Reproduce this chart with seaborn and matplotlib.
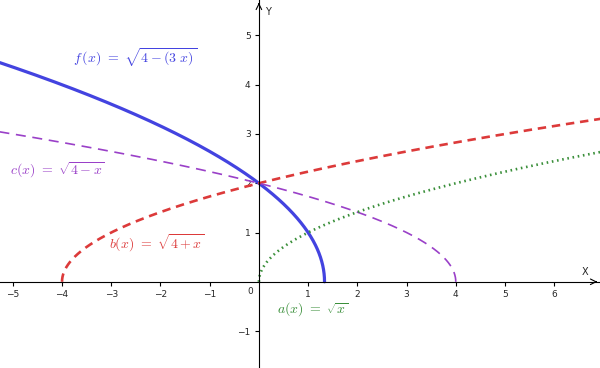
import numpy as np
import pandas as pd
import matplotlib
matplotlib.use("Agg")
import matplotlib.pyplot as plt
import seaborn as sns

# curves as shown in the picture: y = sqrt(k + m*x), defined where k + m*x >= 0
names = ["f", "b", "c", "a"]
const_k = [4, 4, 4, 0]
slope_m = [-3, 1, -1, 1]
labels = [r"$f\,(x)\ =\ \sqrt{4-(3\ x)}$",
          r"$b(x)\ =\ \sqrt{4+x}$",
          r"$c(x)\ =\ \sqrt{4-x}$",
          r"$a(x)\ =\ \sqrt{x}$"]
label_pos = [(-2.52, 4.55), (-2.07, 0.79), (-4.1, 2.27), (1.1, -0.55)]

x_ticks = [-5, -4, -3, -2, -1, 1, 2, 3, 4, 5, 6]
y_ticks = [-1, 1, 2, 3, 4, 5]

colors = ["#4343e0", "#dc3a3a", "#9a40c8", "#3a8f3a"]
styles = [dict(lw=2.3, ls="-"),
          dict(lw=1.9, ls=(0, (3.2, 2.2))),
          dict(lw=1.2, ls=(0, (6, 4))),
          dict(lw=1.9, ls=(0, (0.6, 1.4)))]

XMIN, XMAX = -5.26, 6.93
YMIN, YMAX = -1.75, 5.72

sns.set_style("white")
plt.rcParams["mathtext.fontset"] = "cm"

fig = plt.figure(figsize=(6, 3.68), dpi=100)
ax = fig.add_axes([0, 0, 1, 1])

for name, k, m, lab, pos, col, st in zip(names, const_k, slope_m, labels, label_pos, colors, styles):
    edge = -k / m
    t = np.linspace(0, 1, 600) ** 2
    if m > 0:
        xs = edge + (XMAX + 0.2 - edge) * t
    else:
        xs = edge - (edge - XMIN + 0.2) * t
    ys = np.sqrt(np.clip(k + m * xs, 0, None))
    df = pd.DataFrame({"x": xs, "y": ys})
    sns.lineplot(data=df, x="x", y="y", ax=ax, color=col, sort=False,
                 linewidth=st["lw"], linestyle=st["ls"], estimator=None)
    ax.text(pos[0], pos[1], lab, color=col, fontsize=10, ha="center", va="center")

ax.set_xlim(XMIN, XMAX)
ax.set_ylim(YMIN, YMAX)
ax.set_xlabel("")
ax.set_ylabel("")

for s in ["top", "right"]:
    ax.spines[s].set_visible(False)
ax.spines["left"].set_position(("data", 0))
ax.spines["bottom"].set_position(("data", 0))
for s in ["left", "bottom"]:
    ax.spines[s].set_color("black")
    ax.spines[s].set_linewidth(0.8)

ax.set_xticks(x_ticks)
ax.set_yticks(y_ticks)
ax.set_xticklabels([str(v).replace("-", "\u2212") for v in x_ticks])
ax.set_yticklabels([str(v).replace("-", "\u2212") for v in y_ticks])
ax.tick_params(axis="both", direction="out", length=3, width=0.8, color="black",
               labelsize=6.5, pad=3, bottom=True, left=True)

ax.text(-0.18, -0.2, "0", fontsize=6.5, ha="center", va="center")
ax.text(6.63, 0.2, "X", fontsize=7, ha="center", va="center")
ax.text(0.18, 5.48, "Y", fontsize=7, ha="center", va="center")

# arrow heads at axis ends
ax.annotate("", xy=(XMAX, 0), xytext=(XMAX - 0.15, 0),
            arrowprops=dict(arrowstyle="->", lw=0.8, color="black"))
ax.annotate("", xy=(0, YMAX), xytext=(0, YMAX - 0.15),
            arrowprops=dict(arrowstyle="->", lw=0.8, color="black"))

fig.savefig("out.png", dpi=100)
